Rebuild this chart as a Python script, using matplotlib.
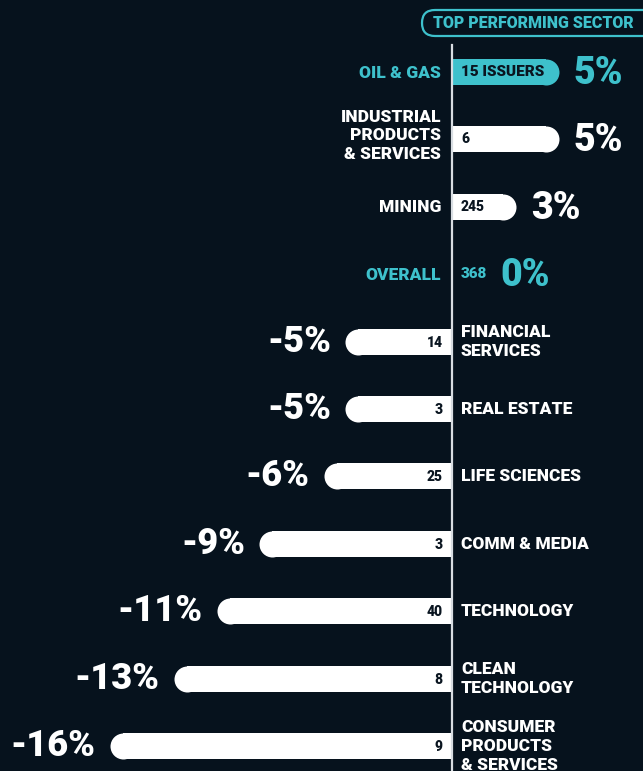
import matplotlib
matplotlib.use('Agg')
import matplotlib.pyplot as plt
from matplotlib.patches import FancyBboxPatch

# sector returns, issuer counts
sectors = ['OIL & GAS', 'INDUSTRIAL\nPRODUCTS\n& SERVICES', 'MINING', 'OVERALL',
           'FINANCIAL\nSERVICES', 'REAL ESTATE', 'LIFE SCIENCES', 'COMM & MEDIA',
           'TECHNOLOGY', 'CLEAN\nTECHNOLOGY', 'CONSUMER\nPRODUCTS\n& SERVICES']
returns = [5, 5, 3, 0, -5, -5, -6, -9, -11, -13, -16]
issuers = ['15 ISSUERS', '6', '245', '368', '14', '3', '25', '3', '40', '8', '9']
top_sector = 'OIL & GAS'
overall = 'OVERALL'

BG = '#06121d'
TEAL = '#3ec1cc'
WHITE = '#ffffff'
DARK = '#0a1520'

plt.rcParams['font.family'] = ['Roboto', 'DejaVu Sans']
plt.rcParams['font.weight'] = 'black'

W, H = 643, 771
fig = plt.figure(figsize=(W / 100, H / 100), dpi=100, facecolor=BG)
ax = fig.add_axes([0, 0, 1, 1])
ax.set_facecolor(BG)

x0 = 452      # pixel of zero line
ppu = 21.4    # pixels per percent
y0, dy = 72, 67.4
ax.set_xlim(-x0 / ppu, (W - x0) / ppu)
ax.set_ylim((H - y0) / dy, -y0 / dy)
ax.axis('off')

px = 1 / ppu      # one pixel in x data units
bar_h = 26 / dy
r = 13 * px       # rounded end radius

ax.plot([0, 0], [(45 - y0) / dy, (H - y0) / dy], color='#d8dde2', lw=1.6, zorder=3)

for i, (name, v, n) in enumerate(zip(sectors, returns, issuers)):
    col = TEAL if name in (top_sector, overall) else WHITE
    if v != 0:
        s = 1 if v > 0 else -1
        ax.barh(i, v - s * r, height=bar_h, left=0, color=col, lw=0, zorder=2)
        ax.scatter([v - s * r], [i], s=(26 * 0.72) ** 2, color=col, lw=0, zorder=2)
    if v >= 0:
        off = -4 if '\n' in name else 0.5
        ax.text(-11 * px, i + off / dy, name, ha='right', va='center', color=col,
                fontsize=12.5, linespacing=1.2, zorder=4)
        ncol = TEAL if v == 0 else DARK
        fs = 11 if name in (top_sector, overall) else 10
        ax.text(9 * px, i, n, ha='left', va='center', color=ncol, fontsize=fs, zorder=4)
        xp = v + 15 * px if v > 0 else 48 * px
        ax.text(xp, i + 1.5 / dy, '%d%%' % v, ha='left', va='center', color=col,
                fontsize=27, zorder=4)
    else:
        ax.text(9 * px, i, name, ha='left', va='center', color=WHITE,
                fontsize=12.5, linespacing=1.2, zorder=4)
        ax.text(-9 * px, i + 1 / dy, n, ha='right', va='center', color=DARK,
                fontsize=10, zorder=4)
        ax.text(v - 14 * px, i, '%d%%' % v, ha='right', va='center', color=WHITE,
                fontsize=26, zorder=4)

# header pill
fig.patches.append(FancyBboxPatch((422, H - 36), 240, 26, transform=None,
                                  boxstyle='round,pad=0,rounding_size=13',
                                  fc=BG, ec=TEAL, lw=1.6, figure=fig))
fig.text(533 / W, 1 - 23 / H, 'TOP PERFORMING SECTOR', ha='center', va='center',
         color=TEAL, fontsize=11.5)

fig.savefig('out.png', dpi=100, facecolor=BG)
